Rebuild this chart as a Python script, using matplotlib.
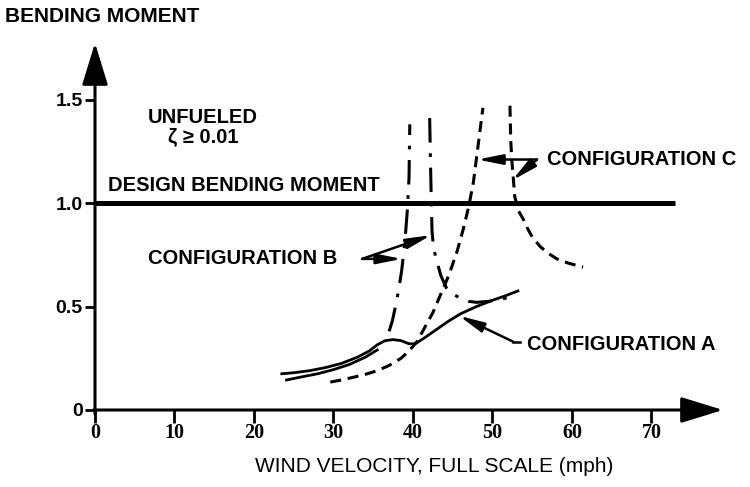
import numpy as np
import matplotlib
matplotlib.use("Agg")
import matplotlib.pyplot as plt

# configuration A (drawn as a slightly doubled solid line)
a1_x = [23.5, 25.0, 27.0, 29.0, 31.0, 33.0, 34.5, 35.5, 36.5, 37.5, 38.5, 39.5, 40.3,
        41.5, 43.0, 44.5, 46.0, 48.0, 50.0, 51.5, 53.2]
a1_y = [0.175, 0.18, 0.19, 0.205, 0.225, 0.255, 0.285, 0.315, 0.335, 0.34, 0.335, 0.32, 0.32,
        0.35, 0.39, 0.43, 0.465, 0.50, 0.53, 0.55, 0.575]
a2_x = [24.1, 26.0, 28.0, 30.0, 32.0, 34.0, 35.5]
a2_y = [0.145, 0.16, 0.175, 0.195, 0.22, 0.255, 0.29]

# configuration B (dash-dot), two branches
b1_x = [37.0, 37.4, 37.8, 38.2, 38.6, 39.0, 39.3, 39.5, 39.6]
b1_y = [0.38, 0.43, 0.50, 0.58, 0.68, 0.82, 0.97, 1.12, 1.38]
b2_x = [42.1, 42.2, 42.3, 42.4, 42.6, 43.0, 43.5, 44.2, 45.0, 46.0, 47.0, 48.0, 49.5, 51.0, 52.8]
b2_y = [1.41, 1.20, 1.02, 0.86, 0.78, 0.72, 0.65, 0.59, 0.56, 0.54, 0.525, 0.52, 0.525, 0.535, 0.55]

# configuration C (dashed), two branches
c1_x = [29.6, 31.0, 32.5, 34.0, 35.5, 37.0, 38.5, 39.5, 40.5, 41.5, 42.5, 43.5, 44.5, 45.5,
        46.3, 47.0, 47.6, 48.0, 48.4, 48.8]
c1_y = [0.135, 0.145, 0.158, 0.172, 0.19, 0.215, 0.25, 0.285, 0.33, 0.40, 0.47, 0.56, 0.65, 0.76,
        0.87, 0.98, 1.10, 1.22, 1.34, 1.46]
c2_x = [52.2, 52.3, 52.45, 52.6, 52.8, 53.3, 53.9, 54.5, 55.1, 56.0, 56.9, 58.1, 59.5, 61.4]
c2_y = [1.47, 1.30, 1.20, 1.13, 1.03, 0.96, 0.92, 0.87, 0.83, 0.79, 0.76, 0.73, 0.71, 0.69]

design_moment = 1.0
x_ticks = [0, 10, 20, 30, 40, 50, 60, 70]
y_ticks = [0, 0.5, 1.0, 1.5]
y_tick_labels = ["0", "0.5", "1.0", "1.5"]

sans = ["Liberation Sans", "DejaVu Sans"]
serif = ["Liberation Serif", "DejaVu Serif"]

fig = plt.figure(figsize=(7.5, 4.87), dpi=100)
ax = fig.add_axes([95 / 750, 77 / 487, 628 / 750, 367 / 487])
ax.set_xlim(0, 79)
ax.set_ylim(0, 367 / 207)
for s in ax.spines.values():
    s.set_visible(False)

# axes with arrow heads
arr = dict(arrowstyle="-|>,head_length=2.6,head_width=0.8", mutation_scale=10,
           lw=2.2, color="black", shrinkA=0, shrinkB=0)
ax.annotate("", xy=(79, 0), xytext=(-0.2, 0), arrowprops=arr, annotation_clip=False)
ax.annotate("", xy=(0, 367 / 207), xytext=(0, -0.02), arrowprops=arr, annotation_clip=False)

ax.set_xticks(x_ticks)
ax.set_xticklabels([str(t) for t in x_ticks], fontfamily=serif, fontweight="bold", fontsize=14.5)
ax.set_yticks(y_ticks)
ax.set_yticklabels(y_tick_labels, fontfamily=sans, fontweight="bold", fontsize=14)
ax.tick_params(axis="x", direction="out", length=9, width=2, pad=0)
ax.tick_params(axis="y", direction="out", length=7, width=2, pad=2)

# design bending moment line
ax.plot([0, 73], [design_moment, design_moment], color="black", lw=3.6, solid_capstyle="butt")

ax.plot(a1_x, a1_y, color="black", lw=2.0)
ax.plot(a2_x, a2_y, color="black", lw=2.0)
for bx, by in [(b1_x, b1_y), (b2_x, b2_y)]:
    ln, = ax.plot(bx, by, color="black", lw=2.2)
    ln.set_dashes([8, 3.5, 1.2, 3.5])
for cx, cy in [(c1_x, c1_y), (c2_x, c2_y)]:
    ln, = ax.plot(cx, cy, color="black", lw=2.2)
    ln.set_dashes([3.6, 2.2])

tk = dict(fontfamily=sans, fontweight="bold", fontsize=14.5, va="center")
ax.text(1.6, 1.085, "DESIGN BENDING MOMENT", ha="left", **tk)
ax.text(13.6, 1.415, "UNFUELED", ha="center", **tk)
ax.text(13.6, 1.32, "ζ ≥ 0.01", ha="center", **tk)
ax.text(56.9, 1.21, "CONFIGURATION C", ha="left", **tk)
ax.text(6.7, 0.73, "CONFIGURATION B", ha="left", **tk)
ax.text(54.3, 0.315, "CONFIGURATION A", ha="left", **tk)

pt = dict(arrowstyle="-|>,head_length=1.5,head_width=0.3", mutation_scale=10,
          lw=1.8, color="black", shrinkA=0, shrinkB=0)
ax.annotate("", xy=(48.1, 1.21), xytext=(55.6, 1.21), arrowprops=pt)
ax.annotate("", xy=(52.5, 1.11), xytext=(55.6, 1.21), arrowprops=pt)
ax.annotate("", xy=(38.6, 0.73), xytext=(33.6, 0.73), arrowprops=pt)
ax.annotate("", xy=(42.3, 0.845), xytext=(33.6, 0.73), arrowprops=pt)
ax.plot([52.6, 53.5], [0.33, 0.33], color="black", lw=1.8)
ax.annotate("", xy=(45.8, 0.455), xytext=(52.6, 0.33), arrowprops=pt)

fig.text(5 / 750, 1 - 17 / 487, "BENDING MOMENT", ha="left", va="center",
         fontfamily=sans, fontweight="bold", fontsize=15)
fig.text(434 / 750, 1 - 466 / 487, "WIND VELOCITY, FULL SCALE (mph)", ha="center", va="center",
         fontfamily=sans, fontsize=15)

fig.savefig("out.png", dpi=100)
